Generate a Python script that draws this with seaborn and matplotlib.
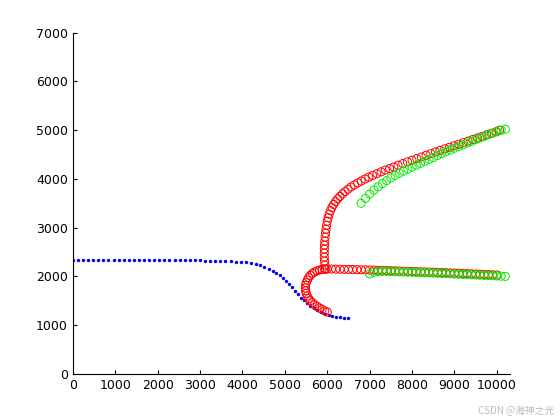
import matplotlib
matplotlib.use("Agg")
import matplotlib.pyplot as plt
import seaborn as sns

# blue dotted curve
blue_x = [0, 120, 240, 360, 480, 600, 720, 840, 960, 1080, 1200, 1320, 1440, 1560, 1680, 1800,
          1920, 2040, 2160, 2280, 2400, 2520, 2640, 2760, 2880, 3000, 3120, 3240, 3360, 3480,
          3600, 3720, 3840, 3960, 4080, 4200, 4310, 4420, 4520, 4620, 4710, 4800, 4880, 4960,
          5030, 5100, 5170, 5240, 5310, 5380, 5450, 5520, 5600, 5680, 5760, 5850, 5940, 6030,
          6120, 6210, 6300, 6400, 6480]
blue_y = [2330, 2330, 2330, 2330, 2330, 2330, 2330, 2330, 2330, 2330, 2330, 2330, 2330, 2330,
          2330, 2330, 2330, 2330, 2330, 2330, 2330, 2330, 2330, 2330, 2328, 2326, 2324, 2322,
          2320, 2318, 2314, 2310, 2304, 2296, 2285, 2270, 2250, 2225, 2195, 2160, 2120, 2075,
          2025, 1970, 1910, 1845, 1775, 1700, 1630, 1565, 1505, 1450, 1400, 1355, 1310, 1270,
          1235, 1205, 1185, 1170, 1160, 1155, 1150]

# red circles, lower branch (S turn then flat)
red_turn_x = [6000, 5940, 5880, 5820, 5760, 5700, 5650, 5600, 5560, 5530, 5505, 5490, 5485, 5490,
              5505, 5530, 5560, 5600, 5650, 5700, 5760, 5820, 5880, 5940]
red_turn_y = [1270, 1290, 1320, 1350, 1385, 1420, 1460, 1500, 1545, 1595, 1650, 1705, 1760, 1815,
              1870, 1925, 1975, 2020, 2060, 2090, 2115, 2130, 2140, 2148]
red_flat_x = list(range(6000, 10100, 100))
red_flat_y = [2150, 2150, 2148, 2146, 2144, 2142, 2140, 2138, 2136, 2134, 2131, 2128, 2125, 2122,
              2119, 2116, 2113, 2110, 2107, 2104, 2100, 2097, 2094, 2091, 2088, 2085, 2081, 2078,
              2075, 2071, 2068, 2064, 2060, 2056, 2052, 2048, 2044, 2040, 2036, 2032, 2028]

# red circles, upper branch
red_up_x = [5960, 5945, 5935, 5930, 5930, 5932, 5936, 5942, 5950, 5960, 5972, 5986, 6002, 6020,
            6045, 6075, 6110, 6150, 6195, 6245, 6300, 6360, 6420, 6490, 6560, 6640, 6720, 6800,
            6890, 6980, 7070, 7170, 7270, 7370, 7470, 7570, 7670, 7780, 7890, 8000, 8110, 8220,
            8330, 8440, 8550, 8660, 8770, 8880, 8990, 9100, 9210, 9320, 9430, 9540, 9650, 9760,
            9870, 9980, 10060]
red_up_y = [2150, 2230, 2310, 2390, 2470, 2550, 2630, 2710, 2790, 2870, 2950, 3030, 3110, 3180,
            3250, 3320, 3385, 3445, 3500, 3555, 3605, 3655, 3700, 3745, 3790, 3830, 3870, 3905,
            3945, 3980, 4015, 4050, 4085, 4120, 4150, 4180, 4212, 4245, 4278, 4310, 4342, 4374,
            4406, 4438, 4470, 4500, 4530, 4560, 4590, 4620, 4650, 4680, 4710, 4740, 4770, 4800,
            4830, 4860, 4890]
red_up_y = [v + 110 * i // 58 for i, v in enumerate(red_up_y)]

# green circles, upper branch
green_up_x = list(range(6800, 10300, 100))
green_up_y = [3500, 3600, 3690, 3770, 3840, 3905, 3965, 4020, 4070, 4115, 4160, 4200, 4240, 4280,
              4320, 4360, 4400, 4440, 4480, 4520, 4560, 4595, 4630, 4665, 4700, 4735, 4770, 4805,
              4840, 4875, 4910, 4940, 4970, 5000, 5020]

# green circles, lower branch
green_lo_x = list(range(7000, 10300, 100))
green_lo_y = [2050, 2085, 2100, 2104, 2102, 2099, 2096, 2093, 2090, 2087, 2084, 2081, 2078, 2075,
              2072, 2068, 2064, 2060, 2056, 2052, 2048, 2044, 2040, 2036, 2032, 2028, 2024, 2020,
              2016, 2012, 2008, 2004, 2000]

fig = plt.figure(figsize=(5.6, 4.2), dpi=100)
ax = fig.add_axes([0.13, 0.11, 0.78, 0.812])

sns.scatterplot(x=blue_x, y=blue_y, ax=ax, color="blue", s=6, linewidth=0)
for xs, ys in [(red_turn_x, red_turn_y), (red_flat_x, red_flat_y), (red_up_x, red_up_y)]:
    sns.scatterplot(x=xs, y=ys, ax=ax, marker="o", s=34,
                    facecolors="none", edgecolor="red", linewidth=0.7)
for xs, ys in [(green_lo_x, green_lo_y), (green_up_x, green_up_y)]:
    sns.scatterplot(x=xs, y=ys, ax=ax, marker="o", s=34,
                    facecolors="none", edgecolor="#00ee00", linewidth=0.7)

ax.set_xlim(0, 10300)
ax.set_ylim(0, 7000)
ax.set_xticks(range(0, 10001, 1000))
ax.set_yticks(range(0, 7001, 1000))
ax.spines["top"].set_visible(False)
ax.spines["right"].set_visible(False)
ax.tick_params(labelsize=9, direction="in", length=3)
fig.text(0.99, 0.01, "CSDN @海神之光", ha="right", va="bottom", fontsize=7, color="#bbbbbb",
         family=["Noto Sans CJK SC", "DejaVu Sans"])

fig.savefig("out.png", dpi=100)
